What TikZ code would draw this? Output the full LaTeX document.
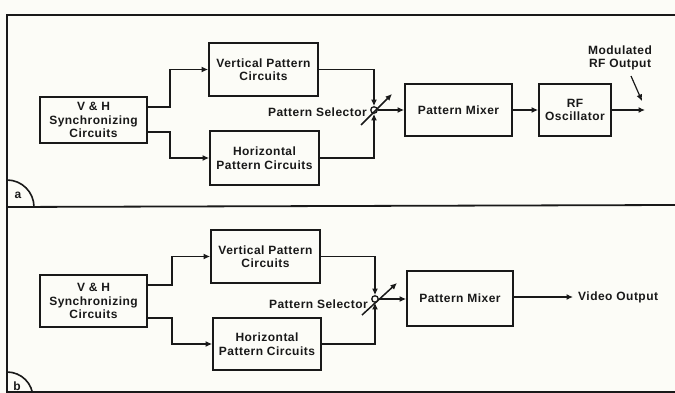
\documentclass[tikz,border=0pt]{standalone}
\usepackage{fontspec}
\setmainfont{Liberation Sans}
\newfontfamily\diagfont[LetterSpace=4]{Liberation Sans}
\usetikzlibrary{arrows.meta}
\definecolor{paper}{RGB}{252,252,247}
\definecolor{ink}{RGB}{25,25,25}
\begin{document}
\begin{tikzpicture}[x=1pt,y=-1pt,
  txt/.style={font=\diagfont\bfseries\fontsize{12}{13.5}\selectfont, text=ink},
  blk/.style={txt, draw=ink, line width=1.8pt, inner sep=0pt, align=center},
  lbl/.style={txt, inner sep=0pt, align=center},
  wire/.style={draw=ink, line width=1.5pt},
  arr/.style={wire, -{Latex[length=6.5pt,width=6pt]}},
  framel/.style={draw=ink, line width=2.4pt},
  selc/.style={circle, draw=ink, line width=1.3pt, fill=paper, inner sep=0pt, minimum size=6.5pt}]
\fill[paper] (0,0) rectangle (675,393);
\useasboundingbox (0,0) rectangle (675,393);
% frame
\draw[framel] (675,15) -- (7,15) -- (7,393);
\draw[framel, line width=1.8pt] (7,207) -- (675,205);
\draw[framel, line width=1.8pt] (7,392) -- (675,392);
\draw[wire, line width=1.6pt] (34,207) .. controls (34,192.1) and (21.9,180) .. (7,180);
\draw[wire, line width=1.6pt] (7,372) .. controls (21.4,372) and (33,383.6) .. (33,398);
\node[lbl] (la) at (18,195) {a};
\node[lbl] (lb) at (17,386) {b};
% ---------- panel a ----------
\node[blk, minimum width=107pt, minimum height=46pt] (vha) at (93.5,120) {V \& H\\Synchronizing\\Circuits};
\node[blk, minimum width=109pt, minimum height=53pt] (vpa) at (263.5,69.5) {Vertical Pattern\\Circuits};
\node[blk, minimum width=109pt, minimum height=54pt] (hpa) at (264.5,158) {Horizontal\\Pattern Circuits};
\node[blk, minimum width=107pt, minimum height=52pt] (pma) at (458.5,110) {Pattern Mixer};
\node[blk, minimum width=72pt, minimum height=52pt] (rfa) at (575,110) {RF\\Oscillator};
\node[selc] (sa) at (374,110) {};
\node[lbl, anchor=east] (psa) at (367,112) {Pattern Selector};
\node[lbl] (moda) at (620,58) {Modulated\\RF Output};
\coordinate (outa) at (645,110);
\coordinate (ma1) at (631,76);
\coordinate (ma2) at (642,101);
\coordinate (sa1) at (361,125);
\coordinate (sa2) at (392,94);
\draw[arr] ([yshift=13pt]vha.east) -- ++(22,0) |- (vpa.west);
\draw[arr] ([yshift=-12pt]vha.east) -- ++(22,0) |- (hpa.west);
\draw[arr] (vpa.east) -| (sa.north);
\draw[arr] (hpa.east) -| (sa.south);
\draw[arr] (sa1) -- (sa2);
\draw[arr] (sa.east) -- (pma.west);
\draw[arr] (pma.east) -- (rfa.west);
\draw[arr] (rfa.east) -- (outa);
\draw[arr, line width=1.2pt] (ma1) -- (ma2);
% ---------- panel b ----------
\node[blk, minimum width=107pt, minimum height=52pt] (vhb) at (93.5,301) {V \& H\\Synchronizing\\Circuits};
\node[blk, minimum width=109pt, minimum height=53pt] (vpb) at (265.5,256.5) {Vertical Pattern\\Circuits};
\node[blk, minimum width=108pt, minimum height=52pt] (hpb) at (267,344) {Horizontal\\Pattern Circuits};
\node[blk, minimum width=106pt, minimum height=55pt] (pmb) at (460,298.5) {Pattern Mixer};
\node[selc] (sb) at (375,299) {};
\node[lbl, anchor=east] (psb) at (368,304) {Pattern Selector};
\node[lbl, anchor=west] (vob) at (578,297) {Video Output};
\coordinate (sb1) at (362,315);
\coordinate (sb2) at (397,283);
\draw[arr] ([yshift=16pt]vhb.east) -- ++(24,0) |- (vpb.west);
\draw[arr] ([yshift=-17pt]vhb.east) -- ++(24,0) |- (hpb.west);
\draw[arr] (vpb.east) -| (sb.north);
\draw[arr] (hpb.east) -| (sb.south);
\draw[arr] (sb1) -- (sb2);
\draw[arr] (sb.east) -- (sb.east -| pmb.west);
\draw[arr, shorten >=5pt] (pmb.east |- vob.west) -- (vob.west);
\end{tikzpicture}
\end{document}
